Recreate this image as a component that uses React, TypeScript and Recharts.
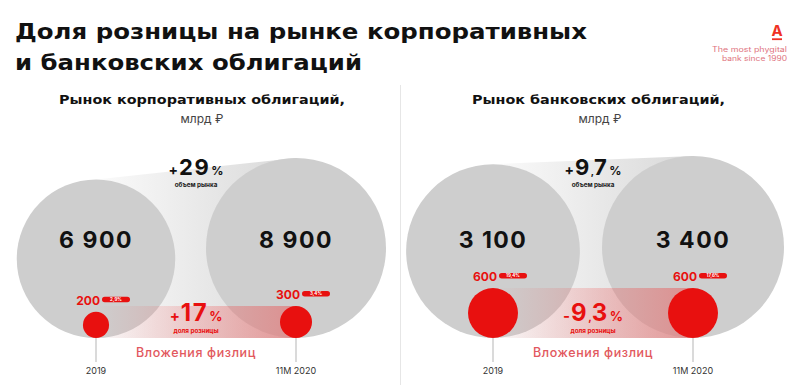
import React from 'react';
import { ScatterChart, Scatter, XAxis, YAxis, ZAxis } from 'recharts';

// ---------- data ----------
const categories = ['2019', '11M 2020'];

const corpTotal = [6900, 8900];
const corpRetail = [200, 300];
const corpShare = ['2,9%', '3,4%'];
const corpGrowth = '+29';
const corpShareChange = '+17';

const bankTotal = [3100, 3400];
const bankRetail = [600, 600];
const bankShare = ['19,4%', '17,6%'];
const bankGrowth = '+9,7';
const bankShareChange = '-9,3';

const titleLines = ['Доля розницы на рынке корпоративных', 'и банковских облигаций'];
const corpTitle = 'Рынок корпоративных облигаций,';
const bankTitle = 'Рынок банковских облигаций,';
const unitLabel = 'млрд ₽';
const growthLabel = 'объем рынка';
const shareLabel = 'доля розницы';
const retailLabel = 'Вложения физлиц';

// ---------- styles ----------
const FONT = "Inter, 'DejaVu Sans', sans-serif";
const HEAD_FONT = "'DejaVu Sans', Inter, sans-serif";
const GREY = '#cecece';
const RED = '#e8100f';
const LIGHT_RED = '#e2585e';

const fmt = (v: number) => String(v).replace(/\B(?=(\d{3})+(?!\d))/g, ' ');

const splitSign = (s: string) => [s.charAt(0), s.slice(1)];

interface PanelProps {
  id: string;
  total: number[];
  retail: number[];
  share: string[];
  growth: string;
  shareChange: string;
  greyR: number;
  redR: number;
  left: number;
}

const BigNumber = ({ x, y, text, size, small, color }: any) => {
  const [sign, rest] = splitSign(text);
  const parts = rest.split(',');
  return (
    <text x={x} y={y} textAnchor="middle" fontFamily={FONT} fontWeight={700} fill={color}>
      <tspan fontSize={small + 2}>{sign}</tspan>
      <tspan fontSize={size} letterSpacing={1.5} dx={1}>{parts[0]}</tspan>
      {parts.length > 1 ? <tspan fontSize={size * 0.45}>,</tspan> : null}
      {parts.length > 1 ? <tspan fontSize={size} letterSpacing={1.5}>{parts[1]}</tspan> : null}
      <tspan fontSize={small} dx={1}>%</tspan>
    </text>
  );
};

const Panel = ({ id, total, retail, share, growth, shareChange, greyR, redR, left }: PanelProps) => {
  const rows = categories.map((c, i) => ({
    idx: i,
    base: 0,
    total: total[i],
    retail: retail[i],
    share: share[i],
    cat: c,
  }));
  const maxTotal = Math.max(...total);
  const greyRadius = (v: number) => greyR * Math.sqrt(v / maxTotal);

  const GreyDot = (p: any) => {
    const r = (p.width || 0) / 2;
    return (
      <g>
        <circle cx={p.cx} cy={p.cy - r} r={r} fill={GREY} />
        <text
          x={p.cx}
          y={p.cy - 90}
          textAnchor="middle"
          fontFamily={FONT}
          fontWeight={700}
          fontSize={23}
          letterSpacing={1.5}
          fill="#111"
        >
          {fmt(p.payload.total)}
        </text>
      </g>
    );
  };

  const RedDot = (p: any) => {
    const r = (p.width || 0) / 2;
    const top = p.cy - 2 * r;
    const bl = top - 7;
    return (
      <g>
        <circle cx={p.cx} cy={p.cy - r} r={r} fill={RED} />
        <text
          x={p.cx + 4}
          y={bl}
          textAnchor="end"
          fontFamily={FONT}
          fontWeight={700}
          fontSize={12}
          fill={RED}
        >
          {fmt(p.payload.retail)}
        </text>
        <rect x={p.cx + 6} y={bl - 8} width={28} height={5.5} rx={2.75} fill={RED} />
        <text
          x={p.cx + 20}
          y={bl - 3.6}
          textAnchor="middle"
          fontFamily={FONT}
          fontWeight={700}
          fontSize={4.5}
          fill="#fff"
        >
          {p.payload.share}
        </text>
      </g>
    );
  };

  const wedge = (lp: any) => {
    const pts = lp.points || [];
    if (pts.length < 2) return <g />;
    const [a, b] = pts;
    const r0 = greyRadius(total[0]);
    const r1 = greyRadius(total[1]);
    return (
      <g>
        <defs>
          <linearGradient id={`wedge-${id}`} x1="0" y1="0" x2="1" y2="0">
            <stop offset="0" stopColor="#c8c8c8" stopOpacity={0.08} />
            <stop offset="1" stopColor="#c8c8c8" stopOpacity={0.7} />
          </linearGradient>
        </defs>
        <polygon
          points={`${a.x},${a.y - 2 * r0} ${b.x},${b.y - 2 * r1} ${b.x},${b.y} ${a.x},${a.y}`}
          fill={`url(#wedge-${id})`}
        />
      </g>
    );
  };

  const band = (lp: any) => {
    const pts = lp.points || [];
    if (pts.length < 2) return <g />;
    const [a, b] = pts;
    const base = a.y;
    const mid = (a.x + b.x) / 2;
    return (
      <g>
        <defs>
          <linearGradient id={`band-${id}`} x1="0" y1="0" x2="1" y2="0">
            <stop offset="0" stopColor="#f03a3a" stopOpacity={0} />
            <stop offset="1" stopColor="#f03a3a" stopOpacity={0.42} />
          </linearGradient>
        </defs>
        <rect x={a.x} y={base - 2 * redR} width={b.x - a.x} height={2 * redR} fill={`url(#band-${id})`} />
        <BigNumber x={mid} y={base - 163} text={growth} size={22} small={12} color="#111" />
        <text x={mid} y={base - 151.5} textAnchor="middle" fontFamily={FONT} fontWeight={700} fontSize={6.3} fill="#222">
          {growthLabel}
        </text>
        <BigNumber x={mid} y={base - 17} text={shareChange} size={24} small={13} color={RED} />
        <text x={mid} y={base - 4.8} textAnchor="middle" fontFamily={FONT} fontWeight={700} fontSize={6.3} fill={RED}>
          {shareLabel}
        </text>
        <text x={mid} y={base + 19} textAnchor="middle" fontFamily={FONT} fontWeight={500} fontSize={12.5} letterSpacing={0.6} fill={LIGHT_RED}>
          {retailLabel}
        </text>
      </g>
    );
  };

  return (
    <div style={{ position: 'absolute', left, top: 0 }}>
      <ScatterChart width={400} height={385} margin={{ top: 0, right: 0, bottom: 0, left: 0 }}>
        <XAxis
          type="number"
          dataKey="idx"
          domain={[-0.48, 1.52]}
          allowDataOverflow
          ticks={[0, 1]}
          interval={0}
          tickFormatter={(v: number) => categories[v]}
          axisLine={false}
          tickSize={24}
          tickMargin={6}
          height={47}
          tickLine={{ stroke: '#b5b5b5' }}
          tick={{ fontSize: 9, fill: '#333', fontFamily: FONT }}
        />
        <YAxis type="number" dataKey="base" domain={[0, 1]} hide />
        <ZAxis zAxisId="g" type="number" dataKey="total" domain={[0, 'dataMax']} range={[0, Math.PI * greyR * greyR]} />
        <ZAxis zAxisId="r" type="number" dataKey="retail" domain={[0, 'dataMax']} range={[0, Math.PI * redR * redR]} />
        <Scatter
          data={rows}
          zAxisId="g"
          shape={(p: any) => <GreyDot {...p} />}
          line={wedge}
          lineType="joint"
          isAnimationActive={false}
        />
        <Scatter
          data={rows}
          zAxisId="r"
          shape={(p: any) => <RedDot {...p} />}
          line={band}
          lineType="joint"
          isAnimationActive={false}
        />
      </ScatterChart>
    </div>
  );
};

export default function App() {
  return (
    <div style={{ position: 'absolute', left: 0, top: 0, width: 800, height: 385, background: '#fff', overflow: 'hidden' }}>
      <svg width={800} height={385} style={{ position: 'absolute', left: 0, top: 0 }}>
        <text x={15} y={38.5} fontFamily={HEAD_FONT} fontWeight={700} fontSize={21} fill="#111" textLength={572} lengthAdjust="spacingAndGlyphs">
          {titleLines[0]}
        </text>
        <text x={15} y={69.5} fontFamily={HEAD_FONT} fontWeight={700} fontSize={21} fill="#111" textLength={347} lengthAdjust="spacingAndGlyphs">
          {titleLines[1]}
        </text>
        <text x={777} y={35.7} textAnchor="middle" fontFamily={FONT} fontWeight={700} fontSize={15} fill="#ef3124">
          А
        </text>
        <rect x={772} y={38.3} width={10} height={1.8} fill="#ef3124" />
        <text x={712} y={51.8} fontFamily={FONT} fontSize={7.1} fill="#e07480" textLength={75} lengthAdjust="spacingAndGlyphs">
          The most phygital
        </text>
        <text x={722} y={60.6} fontFamily={FONT} fontSize={7.1} fill="#e07480" textLength={65} lengthAdjust="spacingAndGlyphs">
          bank since 1990
        </text>
        <text x={202} y={104} textAnchor="middle" fontFamily={HEAD_FONT} fontWeight={700} fontSize={12.2} fill="#111" textLength={286} lengthAdjust="spacingAndGlyphs">
          {corpTitle}
        </text>
        <text x={202} y={123} textAnchor="middle" fontFamily={FONT} fontSize={12} fill="#444">
          {unitLabel}
        </text>
        <text x={598.5} y={104} textAnchor="middle" fontFamily={HEAD_FONT} fontWeight={700} fontSize={12.2} fill="#111" textLength={253} lengthAdjust="spacingAndGlyphs">
          {bankTitle}
        </text>
        <text x={600} y={123} textAnchor="middle" fontFamily={FONT} fontSize={12} fill="#444">
          {unitLabel}
        </text>
        <line x1={400.5} y1={85} x2={400.5} y2={385} stroke="#e6e6e6" strokeWidth={1} />
      </svg>
      <Panel
        id="corp"
        total={corpTotal}
        retail={corpRetail}
        share={corpShare}
        growth={corpGrowth}
        shareChange={corpShareChange}
        greyR={90}
        redR={16}
        left={0}
      />
      <Panel
        id="bank"
        total={bankTotal}
        retail={bankRetail}
        share={bankShare}
        growth={bankGrowth}
        shareChange={bankShareChange}
        greyR={91}
        redR={25}
        left={397}
      />
    </div>
  );
}
